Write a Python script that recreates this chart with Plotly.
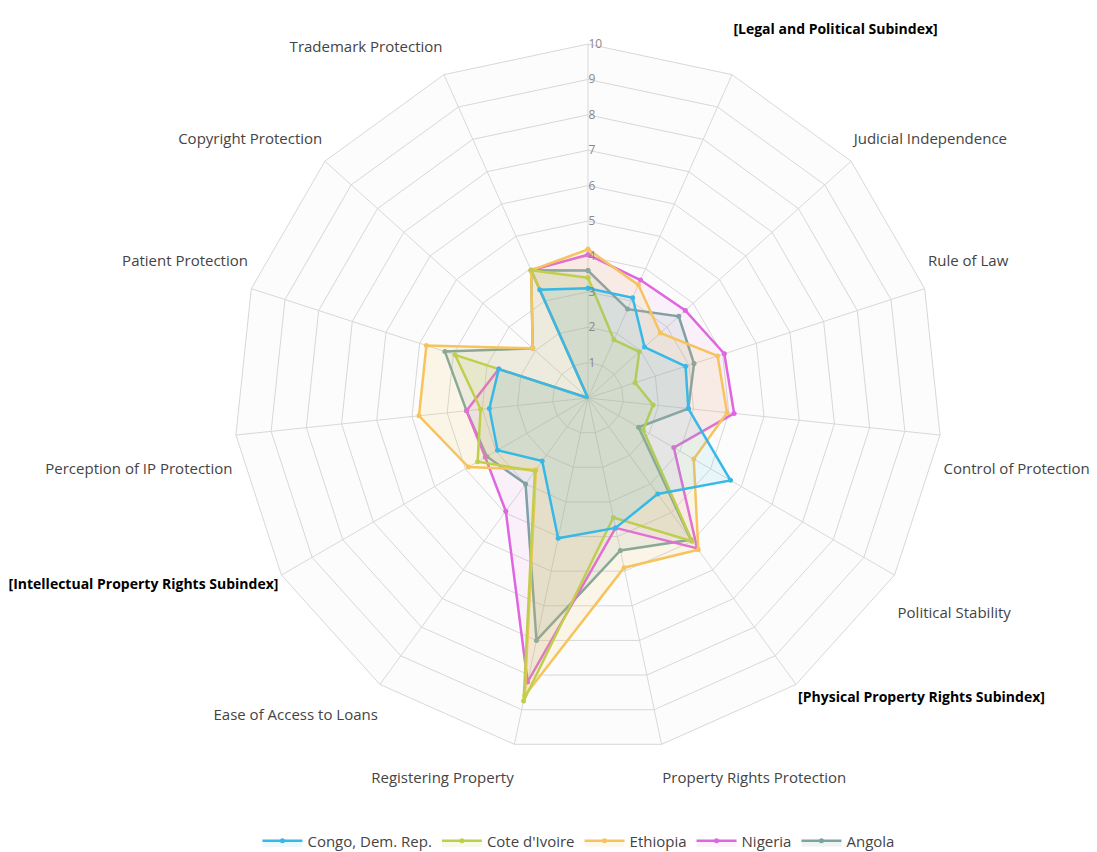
import plotly.graph_objects as go

categories = [
    "IPRI Score",
    "[Legal and Political Subindex]",
    "Judicial Independence",
    "Rule of Law",
    "Control of Protection",
    "Political Stability",
    "[Physical Property Rights Subindex]",
    "Property Rights Protection",
    "Registering Property",
    "Ease of Access to Loans",
    "[Intellectual Property Rights Subindex]",
    "Perception of IP Protection",
    "Patient Protection",
    "Copyright Protection",
    "Trademark Protection",
]

congo = [3.1, 3.1, 2.15, 2.9, 2.85, 4.65, 3.35, 3.75, 4.05, 2.2, 2.95, 2.8, 2.65, 0, 3.35]
cote = [3.4, 1.8, 1.95, 1.4, 1.85, 1.8, 5.0, 3.45, 8.75, 2.55, 3.6, 3.05, 3.95, 0, 3.95]
ethiopia = [4.2, 3.5, 2.75, 3.85, 3.95, 3.45, 5.3, 4.9, 8.6, 2.5, 3.9, 4.8, 4.8, 2.1, 3.95]
nigeria = [4.05, 3.65, 3.7, 4.05, 4.15, 2.8, 5.25, 3.75, 8.2, 3.95, 3.35, 3.45, 2.65, 0, 3.95]
angola = [3.6, 2.75, 3.45, 3.15, 2.85, 1.65, 4.95, 4.4, 7.0, 3.0, 3.3, 3.45, 4.25, 2.1, 3.95]

series = [
    ("Congo, Dem. Rep.", congo, "#38b8e6", "rgba(56,184,230,0.10)"),
    ("Cote d'Ivoire", cote, "#bfcf4c", "rgba(191,207,76,0.12)"),
    ("Ethiopia", ethiopia, "#f7c35e", "rgba(247,195,94,0.12)"),
    ("Nigeria", nigeria, "#de66de", "rgba(222,102,222,0.08)"),
    ("Angola", angola, "#7aa59f", "rgba(122,165,159,0.12)"),
]

radial_ticks = [1, 2, 3, 4, 5, 6, 7, 8, 9, 10]

# label nudges: (+n) blank lines before the text (moves it down), (-n) after it (moves it up)
label_nudge = [0, -2, -1, -2, 3, 2, 0, 1, 1, 1, 0, 3, -2, -1, -1]

NB = "\u00a0"
ticktext = []
for i, c in enumerate(categories):
    if i == 0:
        ticktext.append("")
        continue
    if c.startswith("["):
        t = '<b><span style="color:#000;font-size:14px">' + c + "</span></b>"
    else:
        t = c
    n = label_nudge[i]
    if n > 0:
        t = (NB + "<br>") * n + t
    elif n < 0:
        t = t + ("<br>" + NB) * (-n)
    ticktext.append(t)

fig = go.Figure()
for name, vals, color, fill in reversed(series):
    fig.add_trace(go.Scatterpolar(
        r=vals + [vals[0]],
        theta=categories + [categories[0]],
        name=name,
        mode="lines+markers",
        fill="toself",
        fillcolor=fill,
        line=dict(color=color, width=2.5),
        marker=dict(color=color, size=5),
    ))

fig.update_layout(
    width=1097,
    height=852,
    paper_bgcolor="white",
    margin=dict(l=0, r=0, t=0, b=0),
    font=dict(family="Open Sans, Noto Sans, sans-serif", size=15, color="#444"),
    polar=dict(
        domain=dict(x=[0.2060, 0.8514], y=[0.1267, 0.9577]),
        bgcolor="#fcfcfc",
        gridshape="linear",
        angularaxis=dict(
            type="category",
            categoryarray=categories,
            direction="clockwise",
            rotation=90,
            tickmode="array",
            tickvals=categories,
            ticktext=ticktext,
            tickfont=dict(size=15, color="#444"),
            showline=True,
            linecolor="#d8d8d8",
            linewidth=1,
            gridcolor="#d8d8d8",
            ticks="",
        ),
        radialaxis=dict(
            range=[0, 10],
            tickvals=radial_ticks,
            angle=90,
            tickangle=90,
            tickfont=dict(size=12, color="#888"),
            gridcolor="#d8d8d8",
            showline=False,
            ticks="",
        ),
    ),
    showlegend=True,
    legend=dict(
        orientation="h",
        x=0.52,
        xanchor="center",
        y=0.003,
        yanchor="bottom",
        traceorder="reversed",
        itemwidth=40,
        font=dict(size=15, color="#444"),
    ),
)

fig.write_html("out.html")
